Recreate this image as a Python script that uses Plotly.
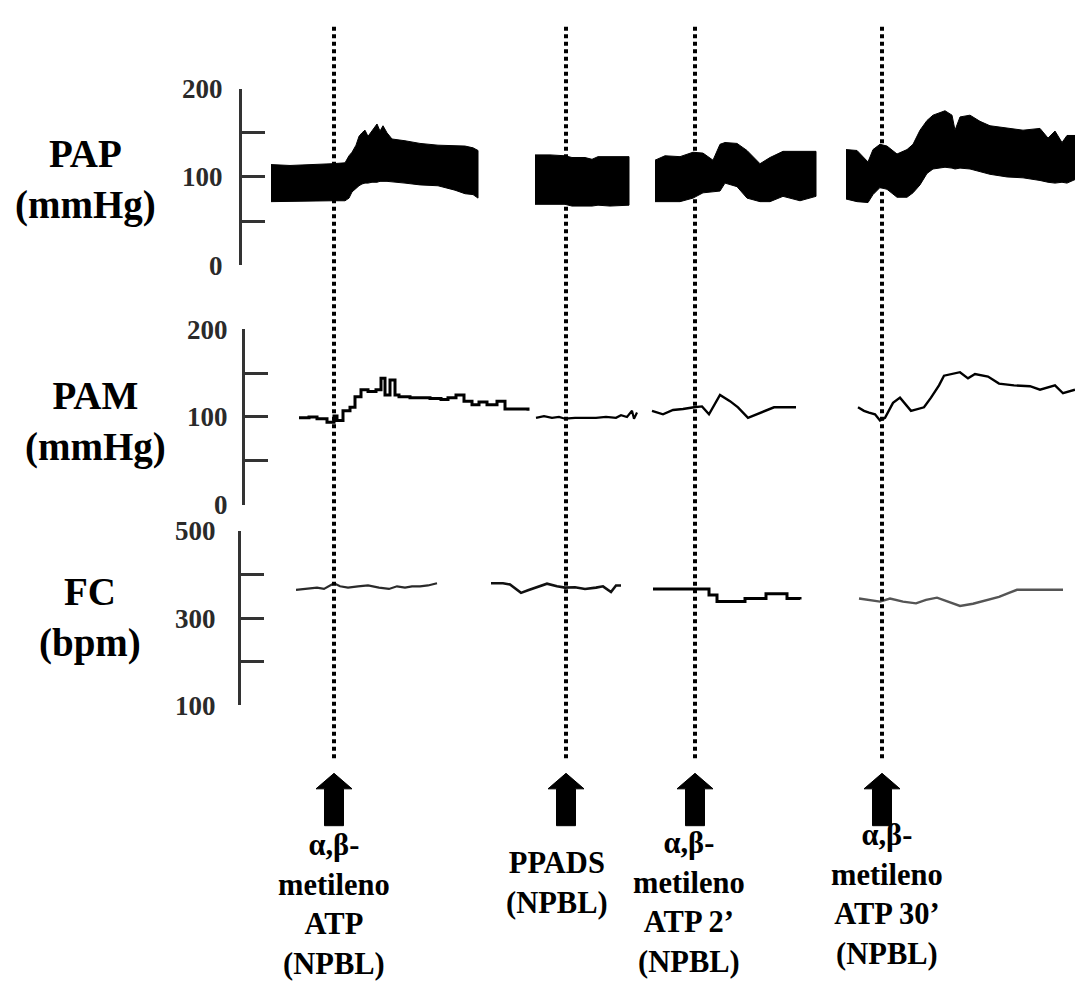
import plotly.graph_objects as go

W, H = 1075, 991

# ---------------- data (time in s, one continuous recording sheet) ----------------
injection_t = [63, 295, 424, 611]
injection_labels = [
    "α,β-<br>metileno<br>ATP<br>(NPBL)",
    "PPADS<br>(NPBL)",
    "α,β-<br>metileno<br>ATP 2’<br>(NPBL)",
    "α,β-<br>metileno<br>ATP 30’<br>(NPBL)",
]

# PAP (pulsatile pressure) : systolic (upper) and diastolic (lower) envelope
pap1_t = [0, 19, 61, 74, 78, 81, 85, 88, 91, 94, 97, 101, 106, 109, 112, 116, 121, 134, 149, 167, 184, 194, 202, 207]
pap1_sys = [114, 113, 115, 116, 124, 128, 136, 146, 150, 153, 146, 152, 160, 152, 158, 150, 143, 141, 138, 136, 135, 135, 133, 130]
pap1_dia = [72, 72, 73, 73, 76, 83, 87, 90, 92, 93, 93, 94, 94, 95, 95, 95, 95, 93, 91, 90, 85, 81, 80, 76]

pap2_t = [264, 279, 294, 301, 314, 321, 327, 339, 358]
pap2_sys = [125, 125, 124, 122, 122, 120, 123, 123, 123]
pap2_dia = [69, 69, 69, 67, 67, 67, 68, 67, 68]

pap3_t = [384, 394, 409, 422, 432, 442, 449, 454, 466, 476, 489, 499, 512, 529, 545]
pap3_sys = [119, 124, 123, 128, 127, 119, 137, 139, 138, 130, 115, 122, 129, 129, 129]
pap3_dia = [72, 72, 72, 76, 82, 83, 84, 93, 89, 76, 72, 72, 78, 73, 78]

pap4_t = [575, 586, 597, 602, 609, 616, 626, 636, 642, 649, 656, 662, 674, 681, 684, 689, 699, 709, 719, 736, 752, 769, 777, 784, 791, 796, 804]
pap4_sys = [131, 130, 117, 131, 137, 135, 126, 131, 137, 153, 164, 170, 175, 170, 153, 168, 170, 163, 158, 155, 153, 155, 144, 152, 139, 147, 147]
pap4_dia = [75, 72, 71, 80, 88, 86, 77, 77, 82, 91, 104, 109, 111, 110, 109, 110, 109, 106, 103, 100, 99, 96, 94, 93, 94, 93, 97]

# PAM (mean pressure)
pam1_t = [28, 38, 46, 56, 63, 66, 72, 79, 84, 90, 97, 105, 110, 114, 119, 124, 128, 139, 149, 159, 170, 177, 185, 193, 201, 208, 216, 226, 234, 257]
pam1_v = [99, 100, 98, 94, 101, 96, 107, 111, 123, 131, 129, 131, 144, 125, 142, 125, 123, 122, 122, 121, 120, 122, 125, 118, 114, 117, 114, 118, 109, 107]
pam2_t = [265, 273, 281, 288, 294, 304, 314, 325, 335, 345, 350, 356, 361, 363, 366]
pam2_v = [99, 101, 99, 100, 98, 99, 99, 99, 100, 99, 102, 100, 107, 98, 105]
pam3_t = [381, 392, 402, 412, 423, 431, 438, 449, 459, 467, 477, 490, 503, 513, 521, 525]
pam3_v = [107, 103, 108, 109, 111, 112, 103, 125, 118, 111, 99, 105, 111, 111, 111, 111]
pam4_t = [587, 593, 598, 604, 609, 614, 622, 629, 640, 653, 660, 668, 673, 689, 697, 704, 717, 728, 743, 759, 769, 784, 792, 804]
pam4_v = [111, 107, 105, 103, 96, 99, 116, 122, 107, 111, 122, 136, 147, 151, 144, 149, 146, 138, 136, 135, 131, 136, 127, 131]

# FC (heart rate)
fc1_t = [25, 35, 46, 53, 63, 69, 77, 87, 97, 108, 118, 126, 134, 141, 149, 157, 166]
fc1_v = [365, 367, 370, 367, 380, 373, 370, 373, 375, 370, 367, 373, 370, 373, 373, 375, 380]
fc2_t = [220, 232, 239, 250, 257, 265, 276, 286, 294, 304, 314, 325, 332, 340, 345, 350]
fc2_v = [380, 380, 377, 358, 364, 370, 379, 373, 370, 371, 367, 370, 373, 360, 375, 375]
fc3_t = [382, 431, 438, 446, 474, 495, 516, 529]
fc3_v = [367, 367, 353, 338, 345, 356, 345, 343]
fc4_t = [588, 598, 609, 619, 632, 645, 655, 666, 676, 689, 702, 717, 728, 738, 746, 759, 774, 792]
fc4_v = [345, 342, 338, 345, 338, 334, 342, 347, 338, 328, 333, 343, 349, 358, 365, 365, 365, 365]

pap_ticks = [0, 50, 100, 150, 200]
pap_ticktext = ["0", "", "100", "", "200"]
pam_ticks = [0, 50, 100, 150, 200]
pam_ticktext = ["0", "", "100", "", "200"]
fc_ticks = [100, 200, 300, 400, 500]
fc_ticktext = ["100", "", "300", "", "500"]

# ---------------- figure ----------------
def py(px):
    return 1 - px / H

T0_PX = 271  # pixel position of t = 0
x_range = [-T0_PX, W - T0_PX]

fig = go.Figure()

pap_segments = [(pap1_t, pap1_sys, pap1_dia), (pap2_t, pap2_sys, pap2_dia),
                (pap3_t, pap3_sys, pap3_dia), (pap4_t, pap4_sys, pap4_dia)]
for t, sys_, dia in pap_segments:
    fig.add_trace(go.Scatter(
        x=list(t) + list(t)[::-1], y=list(sys_) + list(dia)[::-1],
        fill="toself", fillcolor="black", mode="lines",
        line=dict(color="black", width=1, shape="linear"),
        xaxis="x", yaxis="y", hoverinfo="skip", showlegend=False))

pam_segments = [(pam1_t, pam1_v, 3, "hv"), (pam2_t, pam2_v, 2.2, "linear"),
                (pam3_t, pam3_v, 2.4, "linear"), (pam4_t, pam4_v, 2.4, "linear")]
for t, v, w, sh in pam_segments:
    fig.add_trace(go.Scatter(x=t, y=v, mode="lines", line=dict(color="black", width=w, shape=sh),
                             xaxis="x2", yaxis="y2", hoverinfo="skip", showlegend=False))

fc_segments = [(fc1_t, fc1_v, "#2a2a2a", 2.2, "linear"), (fc2_t, fc2_v, "#111111", 2.6, "linear"),
               (fc3_t, fc3_v, "black", 3, "hv"), (fc4_t, fc4_v, "#555555", 2.4, "linear")]
for t, v, c, w, sh in fc_segments:
    fig.add_trace(go.Scatter(x=t, y=v, mode="lines", line=dict(color=c, width=w, shape=sh),
                             xaxis="x3", yaxis="y3", hoverinfo="skip", showlegend=False))

axis_col = "#333333"
tickfont = dict(family="Liberation Serif", size=27, color="#2a2a2a", weight="bold")

def yaxis(domain_px, rng, tv, tt, pos_px, standoff):
    return dict(domain=[py(domain_px[0]), py(domain_px[1])], range=rng, anchor="free",
                position=pos_px / W, side="left", showline=True, linecolor=axis_col, linewidth=3,
                ticks="inside", ticklen=23, tickwidth=3, tickcolor=axis_col,
                tickvals=tv, ticktext=tt, tickfont=tickfont, ticklabelstandoff=standoff,
                showgrid=False, zeroline=False, fixedrange=True)

def xaxis(anchor):
    return dict(domain=[0, 1], range=x_range, visible=False, showgrid=False, zeroline=False,
                anchor=anchor, fixedrange=True)

fig.update_layout(
    width=W, height=H, margin=dict(l=0, r=0, t=0, b=0),
    paper_bgcolor="white", plot_bgcolor="rgba(0,0,0,0)",
    xaxis=xaxis("y"), xaxis2=xaxis("y2"), xaxis3=xaxis("y3"),
    yaxis=yaxis((258, 76), [0, 200], pap_ticks, pap_ticktext, 240, 11),
    yaxis2=yaxis((505, 324), [0, 200], pam_ticks, pam_ticktext, 243, 9),
    yaxis3=yaxis((712, 532), [100, 500], fc_ticks, fc_ticktext, 239, 17),
    showlegend=False,
)

# dotted injection lines and arrows
shapes = []
for t in injection_t:
    shapes.append(dict(type="line", xref="x", yref="paper", x0=t, x1=t, y0=py(12), y1=py(768),
                       line=dict(color="black", width=4, dash="4px,3.5px"), layer="above"))
    hw, sw = 18, 9.5
    ya, yb, yc = py(782), py(798), py(836)
    path = (f"M {t - sw},{yc} L {t - sw},{yb} L {t - hw},{yb} L {t},{ya} "
            f"L {t + hw},{yb} L {t + sw},{yb} L {t + sw},{yc} Z")
    shapes.append(dict(type="path", xref="x", yref="paper", path=path,
                       fillcolor="black", line=dict(color="black", width=1)))
fig.update_layout(shapes=shapes)

# annotations
ann = []
left_font = dict(family="Liberation Serif", size=39, color="black")
for txt, xpx, ypx in [("PAP<br>(mmHg)", 85, 170), ("PAM<br>(mmHg)", 95, 419), ("FC<br>(bpm)", 90, 621)]:
    ann.append(dict(text=f"<b>{txt}</b>", xref="paper", yref="paper", x=xpx / W, y=py(ypx),
                    xanchor="center", yanchor="middle", showarrow=False, font=left_font))

label_font = dict(family="Liberation Serif", size=30.5, color="black")
label_ypx = [917, 895, 915, 907]
label_xshift = [0, -9, -6, 5]
for t, txt, ypx, xs in zip(injection_t, injection_labels, label_ypx, label_xshift):
    ann.append(dict(text=f"<b>{txt}</b>", xref="x", yref="paper", x=t, y=py(ypx), xshift=xs,
                    xanchor="center", yanchor="middle", showarrow=False, font=label_font))
fig.update_layout(annotations=ann)

fig.write_html("out.html", config={"displayModeBar": False, "staticPlot": True},
               post_script="document.body.style.margin='0';")
